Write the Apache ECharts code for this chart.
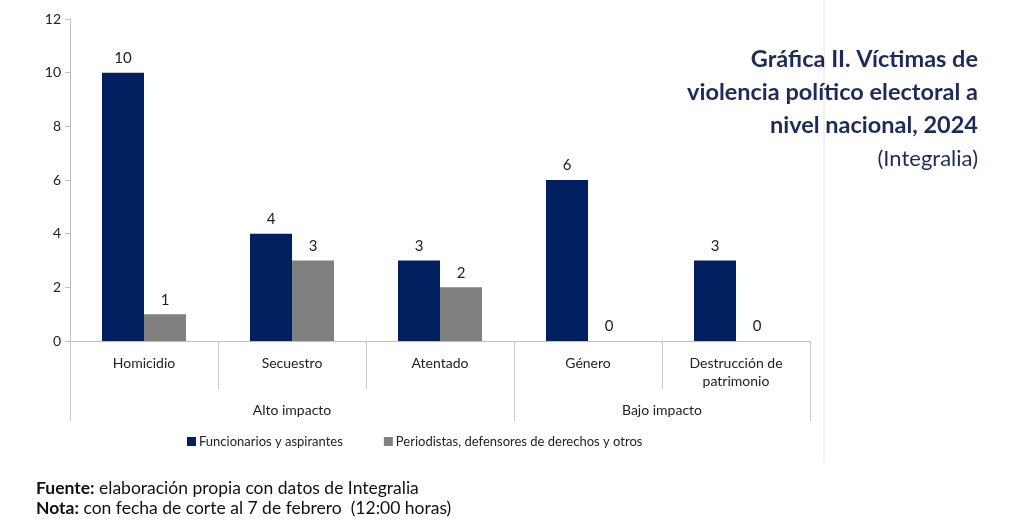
<!DOCTYPE html>
<html><head><meta charset="utf-8">
<script src="https://cdn.jsdelivr.net/npm/echarts@6/dist/echarts.min.js"></script>
<style>html,body{margin:0;padding:0;background:#fff}#c{width:1024px;height:527px}</style>
</head><body><div id="c"></div>
<script>
const categories = ['Homicidio','Secuestro','Atentado','Género','Destrucción de\npatrimonio'];
const groups = ['Alto impacto','Bajo impacto'];
const groupSizes = [3, 2];
const seriesNames = ['Funcionarios y aspirantes','Periodistas, defensores de derechos y otros'];
const funcionarios = [10, 4, 3, 6, 3];
const periodistas = [1, 3, 2, 0, 0];
const yTicks = [0, 2, 4, 6, 8, 10, 12];

// build half-step slots for the group axis (boundaryGap false)
const total = groupSizes.reduce((a,b)=>a+b,0);
const slots = new Array(total*2+1).fill('');
const tickIdx = [0];
const labelIdx = [];
let start = 0;
groups.forEach((g,i)=>{
  const mid = start*2 + groupSizes[i];
  slots[mid] = g; labelIdx.push(mid);
  start += groupSizes[i];
  tickIdx.push(start*2);
});

const chart = echarts.init(document.getElementById('c'));
const FONT = 'Lato';
chart.setOption({
  animation:false,
  textStyle:{fontFamily:FONT},
  legend:{
    left:182, top:430, itemWidth:9, itemHeight:9, itemGap:41, icon:'rect',
    textStyle:{fontFamily:FONT,fontSize:13,color:'#222',padding:[0,0,0,-2]},
    data:seriesNames
  },
  grid:{left:70,right:214,top:19,bottom:186},
  xAxis:[{
    type:'category', data:categories, position:'bottom',
    axisLine:{lineStyle:{color:'#bfbfbf'}},
    axisTick:{show:true,length:48,interval:0,lineStyle:{color:'#c8c8c8'}},
    axisLabel:{interval:0,margin:13,fontFamily:FONT,fontSize:14,color:'#222',lineHeight:18}
  },{
    type:'category', data:slots, position:'bottom', boundaryGap:false,
    axisLine:{show:false},
    axisTick:{show:true,length:80,interval:(i)=>tickIdx.includes(i),lineStyle:{color:'#c8c8c8'}},
    axisLabel:{interval:(i)=>labelIdx.includes(i),margin:62,fontFamily:FONT,fontSize:14,color:'#222'}
  }],
  yAxis:{
    type:'value', min:0, max:12, interval:2,
    axisLine:{show:true,lineStyle:{color:'#bfbfbf'}},
    axisTick:{show:true,length:5,lineStyle:{color:'#bfbfbf'}},
    splitLine:{show:false},
    axisLabel:{margin:9,fontFamily:FONT,fontSize:14,color:'#222',formatter:(v)=>yTicks.includes(v)?String(v):''}
  },
  series:[{
    name:seriesNames[0], type:'bar', data:funcionarios, xAxisIndex:0,
    barWidth:42, barGap:'0%',
    itemStyle:{color:'#002060'},
    label:{show:true,position:'top',distance:7,fontFamily:FONT,fontSize:15,color:'#222'}
  },{
    name:seriesNames[1], type:'bar', data:periodistas, xAxisIndex:0,
    barWidth:42, barGap:'0%',
    itemStyle:{color:'#808080'},
    label:{show:true,position:'top',distance:7,fontFamily:FONT,fontSize:15,color:'#222'}
  }],
  graphic:[
    {type:'line',shape:{x1:824,y1:0,x2:824,y2:462},style:{stroke:'#e6e6e6',lineWidth:1},silent:true},
    {type:'text',x:978,y:43,style:{
      text:'Gráfica II. Víctimas de\nviolencia político electoral a\nnivel nacional, 2024',
      textAlign:'right',textVerticalAlign:'top',
      fontFamily:FONT,fontSize:23.5,fontWeight:'bold',fill:'#1c2b5a',lineHeight:33
    }},
    {type:'text',x:978,y:159,style:{
      text:'(Integralia)',textAlign:'right',textVerticalAlign:'middle',
      fontFamily:FONT,fontSize:22,fill:'#1c2b5a'
    }},
    {type:'text',left:36,top:478,style:{
      text:'{b|Fuente:} elaboración propia con datos de Integralia\n{b|Nota:} con fecha de corte al 7 de febrero  (12:00 horas)',
      rich:{b:{fontFamily:FONT,fontWeight:'bold',fontSize:17.5,fill:'#111',lineHeight:20.5}},
      fontFamily:FONT,fontSize:17.5,fill:'#111',lineHeight:20.5
    }}
  ]
});
</script></body></html>
